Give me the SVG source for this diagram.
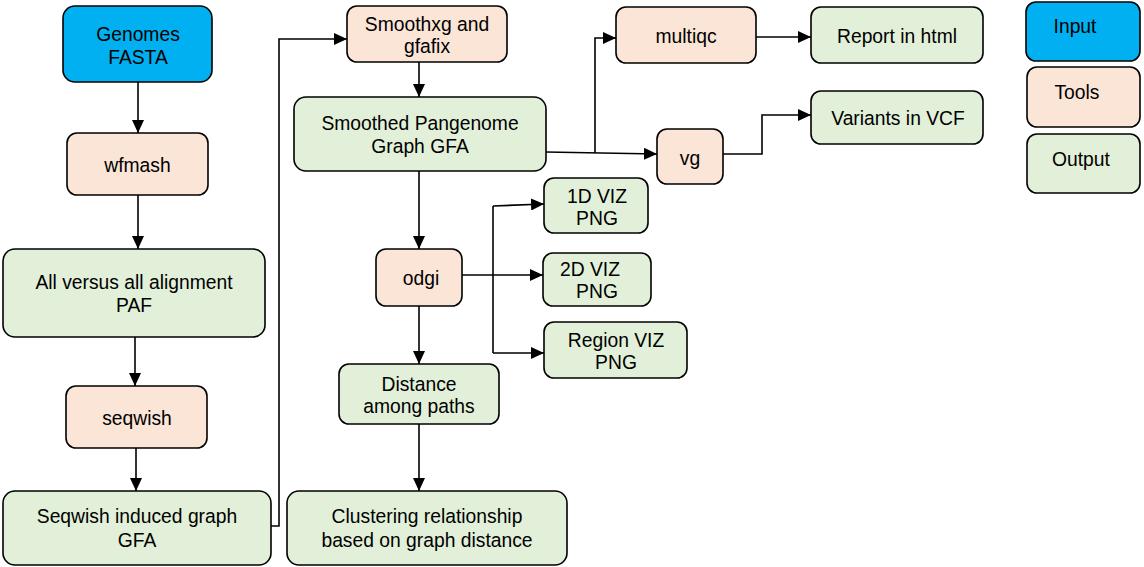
<svg xmlns="http://www.w3.org/2000/svg" width="1144" height="567" viewBox="0 0 1144 567">
<defs>
<marker id="ah" markerUnits="userSpaceOnUse" markerWidth="14" markerHeight="12" refX="13" refY="6" orient="auto">
<path d="M0,0 L13,6 L0,12 Z" fill="#000"/>
</marker>
<style>
rect{stroke:#000;stroke-width:1.6;}
.in{fill:#00b0f0;}
.tool{fill:#fbe5d6;}
.out{fill:#e2f0d9;}
text{font-family:"Liberation Sans",Arial,sans-serif;font-size:19.3px;fill:#000;text-anchor:middle;}
.c{fill:none;stroke:#000;stroke-width:1.6;}
.a{marker-end:url(#ah);}
</style>
</defs>
<rect width="1144" height="567" fill="#fff" style="stroke:none"/>
<g id="connectors">
<path class="c a" d="M138,82 V133"/>
<path class="c a" d="M138,195 V249"/>
<path class="c a" d="M135,337 V386"/>
<path class="c a" d="M136,448 V491"/>
<path class="c a" d="M271,526 H279 V39 H347"/>
<path class="c a" d="M419,62 V97"/>
<path class="c a" d="M546,152 L657,154"/>
<path class="c a" d="M595,153 V38 H616"/>
<path class="c a" d="M756,37 H811"/>
<path class="c a" d="M723,154 H762 V115 H811"/>
<path class="c a" d="M419,171 V249"/>
<path class="c a" d="M462,275 H543"/>
<path class="c" d="M493,353 V206"/>
<path class="c a" d="M493,206 L544,204"/>
<path class="c a" d="M493,353 H544"/>
<path class="c a" d="M419,306 V364"/>
<path class="c a" d="M419,424 V491"/>
</g>
<g id="genomes"><rect class="in" x="63" y="6" width="149" height="76" rx="12"/><text x="138" y="41">Genomes</text><text x="138" y="64">FASTA</text></g>
<g id="wfmash"><rect class="tool" x="67" y="133" width="141" height="62" rx="10"/><text x="137.5" y="172">wfmash</text></g>
<g id="paf"><rect class="out" x="3" y="249" width="262" height="88" rx="12"/><text x="134" y="289">All versus all alignment</text><text x="134" y="312">PAF</text></g>
<g id="seqwish"><rect class="tool" x="66" y="386" width="141" height="62" rx="10"/><text x="137" y="425">seqwish</text></g>
<g id="seqwishgfa"><rect class="out" x="3" y="491" width="268" height="74" rx="12"/><text x="137" y="523">Seqwish induced graph</text><text x="137" y="547">GFA</text></g>
<g id="smoothxg"><rect class="tool" x="347" y="6" width="160" height="56" rx="10"/><text x="427" y="31">Smoothxg and</text><text x="427" y="53">gfafix</text></g>
<g id="smoothed"><rect class="out" x="294" y="97" width="252" height="74" rx="12"/><text x="420" y="130">Smoothed Pangenome</text><text x="420" y="153">Graph GFA</text></g>
<g id="multiqc"><rect class="tool" x="616" y="7" width="140" height="56" rx="10"/><text x="686" y="43">multiqc</text></g>
<g id="report"><rect class="out" x="811" y="7" width="172" height="56" rx="10"/><text x="897" y="43">Report in html</text></g>
<g id="vg"><rect class="tool" x="657" y="129" width="66" height="55" rx="10"/><text x="690" y="165">vg</text></g>
<g id="variants"><rect class="out" x="811" y="91" width="172" height="53" rx="10"/><text x="898" y="125">Variants in VCF</text></g>
<g id="odgi"><rect class="tool" x="376" y="249" width="86" height="57" rx="10"/><text x="421" y="285">odgi</text></g>
<g id="viz1d"><rect class="out" x="544" y="178" width="104" height="55" rx="10"/><text x="597" y="203">1D VIZ</text><text x="597" y="225">PNG</text></g>
<g id="viz2d"><rect class="out" x="543" y="253" width="108" height="53" rx="10"/><text x="590" y="276">2D VIZ</text><text x="597" y="298">PNG</text></g>
<g id="vizregion"><rect class="out" x="544" y="322" width="143" height="56" rx="10"/><text x="616" y="347">Region VIZ</text><text x="616" y="369">PNG</text></g>
<g id="distance"><rect class="out" x="339" y="364" width="160" height="60" rx="10"/><text x="419" y="391">Distance</text><text x="419" y="413">among paths</text></g>
<g id="clustering"><rect class="out" x="287" y="491" width="280" height="74" rx="12"/><text x="427" y="523">Clustering relationship</text><text x="427" y="547">based on graph distance</text></g>
<g id="legend-input"><rect class="in" x="1026" y="2" width="114" height="59" rx="10"/><text x="1075" y="33">Input</text></g>
<g id="legend-tools"><rect class="tool" x="1027" y="67" width="113" height="60" rx="10"/><text x="1077" y="99">Tools</text></g>
<g id="legend-output"><rect class="out" x="1027" y="134" width="113" height="59" rx="10"/><text x="1081" y="166">Output</text></g>
</svg>
